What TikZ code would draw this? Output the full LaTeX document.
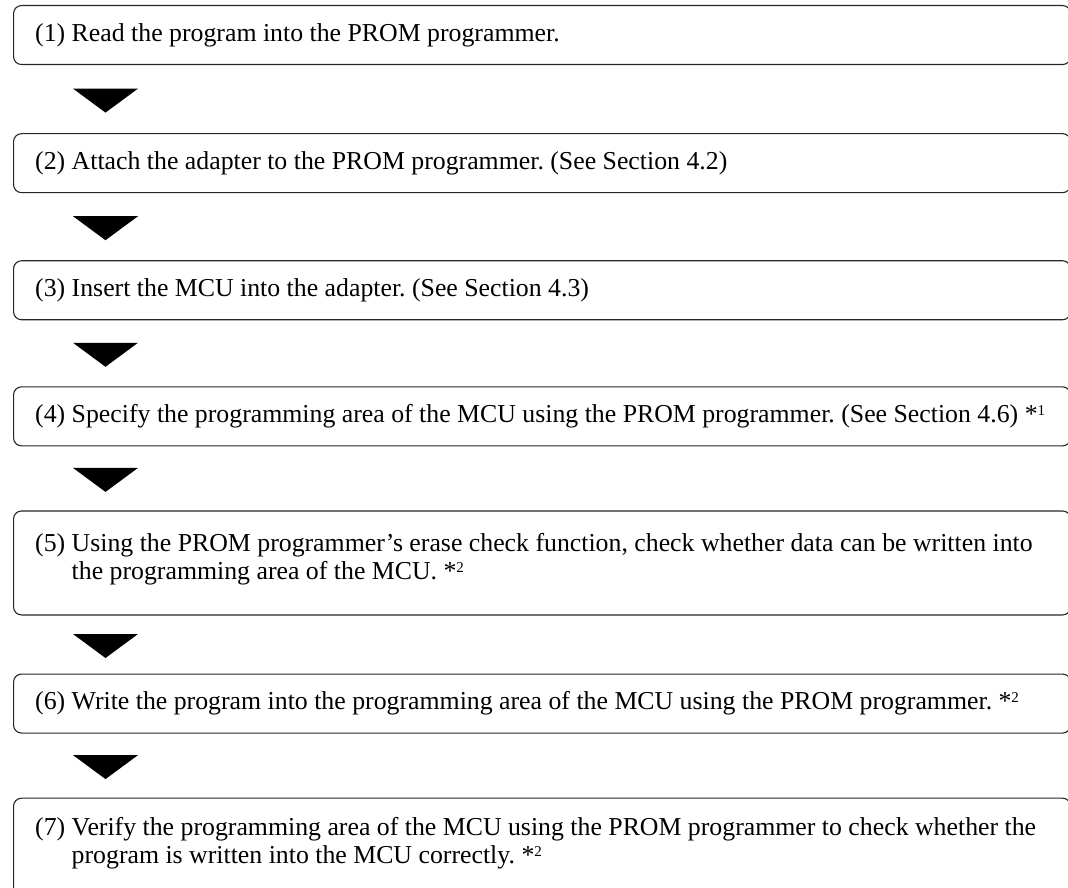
\documentclass[tikz,border=0pt]{standalone}
\usepackage{fontspec}
\setmainfont{Liberation Serif}
\usetikzlibrary{positioning, calc}
\frenchspacing
\newcommand{\notemark}[1]{*\raisebox{7pt}{\fontsize{15pt}{15pt}\selectfont #1}}

\begin{document}
\begin{tikzpicture}[x=1pt, y=-1pt, node distance=66pt]
    \tikzstyle{stepbox} = [rectangle, rounded corners=8pt, draw=black!85, line width=1.1pt, minimum width=1057pt, minimum height=59pt]
    \tikzstyle{tallbox} = [stepbox, minimum height=104pt]
    \tikzstyle{steptext} = [inner sep=0pt, align=left, font=\fontsize{25.8pt}{28pt}\selectfont]
    \tikzstyle{pointer} = [fill=black]

    \useasboundingbox (0,0) rectangle (1068,888);
    \clip (0,0) rectangle (1068,888);

    % Boxes
    \node (s1) [stepbox, anchor=north west] at (13,5) {};
    \node (s2) [stepbox, below=68pt of s1] {};
    \node (s3) [stepbox, below=67pt of s2] {};
    \node (s4) [stepbox, below=66pt of s3] {};
    \node (s5) [tallbox, below=64pt of s4] {};
    \node (s6) [stepbox, below=58pt of s5] {};
    \node (s7) [tallbox, below=64pt of s6] {};

    % Texts
    \node (t1) [steptext, right=22pt of s1.west] {(1) Read the program into the PROM programmer.};
    \node (t2) [steptext, right=22pt of s2.west] {(2) Attach the adapter to the PROM programmer. (See Section 4.2)};
    \node (t3) [steptext, right=22pt of s3.west] {(3) Insert the MCU into the adapter. (See Section 4.3)};
    \node (t4) [steptext, right=22pt of s4.west] {(4) Specify the programming area of the MCU using the PROM programmer. (See Section 4.6) \notemark{1}};
    \node (t5) [steptext, right=22pt of s5.west, yshift=4pt] {(5) Using the PROM programmer's erase check function, check whether data can be written into\\\hphantom{(5) }the programming area of the MCU. \notemark{2}};
    \node (t6) [steptext, right=22pt of s6.west] {(6) Write the program into the programming area of the MCU using the PROM programmer. \notemark{2}};
    \node (t7) [steptext, right=22pt of s7.west, yshift=7pt] {(7) Verify the programming area of the MCU using the PROM programmer to check whether the\\\hphantom{(7) }program is written into the MCU correctly. \notemark{2}};

    % Arrows
    \foreach \a/\b in {s1/s2, s2/s3, s3/s4, s4/s5, s5/s6, s6/s7} {
        \coordinate (m) at ($(\a.south west)!0.5!(\b.north west)$);
        \fill [pointer] ($(m)+(60,-10.5)$) -- ++(65,0) -- ++(-32.5,24) -- cycle;
    }
\end{tikzpicture}
\end{document}
